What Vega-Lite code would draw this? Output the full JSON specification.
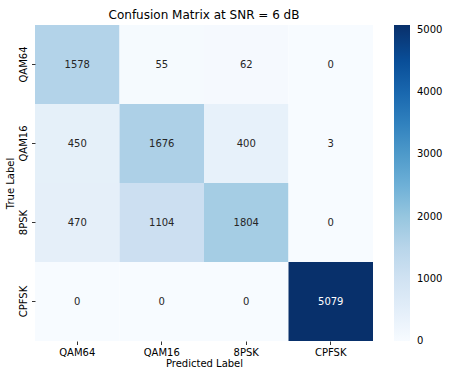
{
  "$schema": "https://vega.github.io/schema/vega-lite/v6.json",
  "width": 338,
  "height": 316,
  "autosize": "none",
  "padding": {"left": 35, "top": 25, "right": 76, "bottom": 28},
  "background": "white",
  "title": {
    "text": "Confusion Matrix at SNR = 6 dB",
    "font": "DejaVu Sans",
    "fontSize": 12,
    "fontWeight": "normal",
    "color": "#000000",
    "offset": 3
  },
  "config": {
    "view": {"stroke": null},
    "axis": {
      "labelFont": "DejaVu Sans",
      "titleFont": "DejaVu Sans",
      "labelFontSize": 10,
      "titleFontSize": 10,
      "titleFontWeight": "normal",
      "labelColor": "#000000",
      "titleColor": "#000000",
      "tickColor": "#000000",
      "tickSize": 3.5,
      "tickWidth": 0.8,
      "domain": false,
      "grid": false
    },
    "legend": {
      "labelFont": "DejaVu Sans",
      "labelFontSize": 10,
      "labelColor": "#000000"
    }
  },
  "data": {
    "values": [
      {"true": "QAM64", "pred": "QAM64", "count": 1578},
      {"true": "QAM64", "pred": "QAM16", "count": 55},
      {"true": "QAM64", "pred": "8PSK", "count": 62},
      {"true": "QAM64", "pred": "CPFSK", "count": 0},
      {"true": "QAM16", "pred": "QAM64", "count": 450},
      {"true": "QAM16", "pred": "QAM16", "count": 1676},
      {"true": "QAM16", "pred": "8PSK", "count": 400},
      {"true": "QAM16", "pred": "CPFSK", "count": 3},
      {"true": "8PSK", "pred": "QAM64", "count": 470},
      {"true": "8PSK", "pred": "QAM16", "count": 1104},
      {"true": "8PSK", "pred": "8PSK", "count": 1804},
      {"true": "8PSK", "pred": "CPFSK", "count": 0},
      {"true": "CPFSK", "pred": "QAM64", "count": 0},
      {"true": "CPFSK", "pred": "QAM16", "count": 0},
      {"true": "CPFSK", "pred": "8PSK", "count": 0},
      {"true": "CPFSK", "pred": "CPFSK", "count": 5079}
    ]
  },
  "encoding": {
    "x": {
      "field": "pred",
      "type": "nominal",
      "sort": ["QAM64", "QAM16", "8PSK", "CPFSK"],
      "scale": {"paddingInner": 0, "paddingOuter": 0},
      "axis": {"title": "Predicted Label", "labelAngle": 0, "labelPadding": 3, "titlePadding": 1}
    },
    "y": {
      "field": "true",
      "type": "nominal",
      "sort": ["QAM64", "QAM16", "8PSK", "CPFSK"],
      "scale": {"paddingInner": 0, "paddingOuter": 0},
      "axis": {"title": "True Label", "labelAngle": -90, "labelPadding": 3, "titlePadding": 3}
    }
  },
  "layer": [
    {
      "mark": {"type": "rect", "strokeWidth": 0},
      "encoding": {
        "color": {
          "field": "count",
          "type": "quantitative",
          "scale": {
            "domain": [0, 634.875, 1269.75, 1904.625, 2539.5, 3174.375, 3809.25, 4444.125, 5079],
            "range": ["#f7fbff", "#deebf7", "#c6dbef", "#9ecae1", "#6baed6", "#4292c6", "#2171b5", "#08519c", "#08306b"]
          },
          "legend": {
            "title": null,
            "orient": "right",
            "direction": "vertical",
            "offset": 21,
            "padding": 0,
            "gradientLength": 316,
            "gradientThickness": 16,
            "gradientStrokeWidth": 0,
            "labelOffset": 7,
            "format": "d",
            "values": [0, 1000, 2000, 3000, 4000, 5000],
            "encode": {
              "labels": {"update": {"baseline": {"value": "middle"}}}
            }
          }
        }
      }
    },
    {
      "mark": {"type": "text", "font": "DejaVu Sans", "fontSize": 10},
      "encoding": {
        "text": {"field": "count", "type": "quantitative", "format": "d"},
        "color": {
          "condition": {"test": "datum.count > 2500", "value": "#ffffff"},
          "value": "#262626"
        }
      }
    }
  ]
}
